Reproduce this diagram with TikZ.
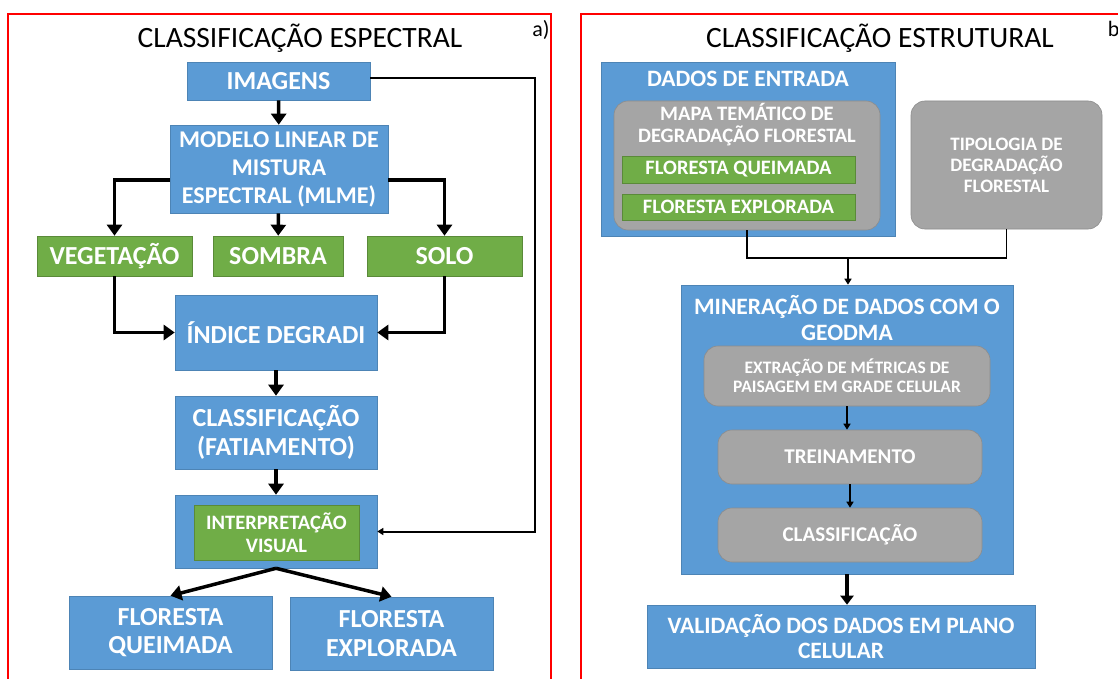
\documentclass[tikz,border=0pt]{standalone}
\usepackage{fontspec}
\setmainfont{Carlito}
\usetikzlibrary{arrows.meta}
\definecolor{boxblue}{RGB}{91,155,213}
\definecolor{boxgreen}{RGB}{112,173,71}
\definecolor{boxgray}{RGB}{165,165,165}
\newcommand{\fs}[1]{\fontsize{#1}{\dimexpr #1pt*110/100\relax}\selectfont}
\begin{document}
\begin{tikzpicture}[x=1pt, y=-1pt,
	bluebox/.style={draw=boxblue!85!black, line width=0.6pt, fill=boxblue, text=white, font=\bfseries\fs{26}, align=center, inner sep=0pt},
	greenbox/.style={draw=boxgreen!80!black, line width=0.6pt, fill=boxgreen, text=white, font=\bfseries\fs{20.5}, align=center, inner sep=0pt},
	graybox/.style={draw=boxgray!85!black, line width=0.6pt, fill=boxgray, text=white, font=\bfseries\fs{21}, align=center, inner sep=0pt, rounded corners=14pt},
	bigarrow/.style={line width=3.5pt, -{Triangle[length=11pt, width=15pt]}},
	thinarrow/.style={line width=2pt, -{Triangle[length=6pt, width=7pt]}},
	frame/.style={draw=red, line width=1.8pt}]
	\useasboundingbox (0,0) rectangle (1118,679);
	\fill[white] (0,0) rectangle (1118,679);
	% a) classificacao espectral
	\draw[frame] (8,14) rectangle (551,700);
	\node[font=\fs{29.5}] (titlea) at (300,38) {CLASSIFICAÇÃO ESPECTRAL};
	\node[font=\fs{22}] (laba) at (541,30) {a)};
	\node[bluebox, minimum width=183pt, minimum height=38pt] (img) at (278.5,81) {IMAGENS};
	\node[bluebox, font=\bfseries\fontsize{24}{28}\selectfont, minimum width=218pt, minimum height=88pt] (mlme) at (279,169) {MODELO LINEAR DE\\MISTURA\\ESPECTRAL (MLME)};
	\node[greenbox, font=\bfseries\fs{26}, minimum width=155pt, minimum height=40pt] (veg) at (114.5,256) {VEGETAÇÃO};
	\node[greenbox, font=\bfseries\fs{26}, minimum width=130pt, minimum height=40pt] (sombra) at (278,256) {SOMBRA};
	\node[greenbox, font=\bfseries\fs{26}, minimum width=155pt, minimum height=40pt] (solo) at (444.5,256) {SOLO};
	\node[bluebox, minimum width=202pt, minimum height=75pt] (degradi) at (276,332.5) {ÍNDICE DEGRADI};
	\node[bluebox, minimum width=202pt, minimum height=73pt] (fatia) at (276,432.5) {CLASSIFICAÇÃO\\(FATIAMENTO)};
	\node[bluebox, minimum width=202pt, minimum height=73pt] (interp) at (276,531.5) {};
	\node[greenbox, minimum width=165pt, minimum height=55pt] (visual) at (276.5,532.5) {INTERPRETAÇÃO\\VISUAL};
	\node[bluebox, minimum width=203pt, minimum height=73pt] (fq) at (170.5,632.5) {FLORESTA\\QUEIMADA};
	\node[bluebox, minimum width=203pt, minimum height=73pt] (fe) at (391.5,633.5) {FLORESTA\\EXPLORADA};
	\draw[bigarrow] (img) -- (mlme);
	\draw[bigarrow] ([yshift=-11pt]mlme.west) -| (veg.north);
	\draw[bigarrow] (mlme) -- (sombra);
	\draw[bigarrow] ([yshift=-11pt]mlme.east) -| (solo.north);
	\draw[bigarrow] (veg.south) |- (degradi.west);
	\draw[bigarrow] (solo.south) |- (degradi.east);
	\draw[bigarrow] (degradi) -- (fatia);
	\draw[bigarrow] (fatia) -- (interp);
	\draw[thinarrow] ([yshift=3pt]img.east) -- ++(165,0) |- (interp.east);
	\draw[bigarrow] (interp.south) -- (fq.north);
	\draw[bigarrow] (interp.south) -- (fe.north);
	% b) classificacao estrutural
	\draw[frame] (581,14) rectangle (1140,700);
	\node[font=\fs{29.5}] (titleb) at (880,38) {CLASSIFICAÇÃO ESTRUTURAL};
	\node[font=\fs{22}] (labb) at (1117,30) {b)};
	\node[bluebox, minimum width=294pt, minimum height=174pt] (dados) at (748,149) {};
	\node[text=white, font=\bfseries\fs{23.5}] (dadoslbl) at (748,79) {DADOS DE ENTRADA};
	\node[graybox, minimum width=266pt, minimum height=129pt] (mapa) at (747,165.5) {};
	\node[text=white, font=\bfseries\fs{20.5}, align=center] (mapalbl) at (747,124.5) {MAPA TEMÁTICO DE\\DEGRADAÇÃO FLORESTAL};
	\node[greenbox, minimum width=233pt, minimum height=27pt] (gq) at (738.5,169.5) {FLORESTA QUEIMADA};
	\node[greenbox, minimum width=233pt, minimum height=26pt] (ge) at (738.5,207) {FLORESTA EXPLORADA};
	\node[graybox, font=\bfseries\fs{19}, minimum width=191pt, minimum height=128pt] (tipo) at (1006.5,165) {TIPOLOGIA DE\\DEGRADAÇÃO\\FLORESTAL};
	\node[bluebox, minimum width=332pt, minimum height=289pt] (miner) at (847,429.5) {};
	\node[text=white, font=\bfseries\fs{23.5}, align=center] (minerlbl) at (847,318) {MINERAÇÃO DE DADOS COM O\\GEODMA};
	\node[graybox, font=\bfseries\fs{17.5}, minimum width=286pt, minimum height=60pt] (extr) at (847,376) {EXTRAÇÃO DE MÉTRICAS DE\\PAISAGEM EM GRADE CELULAR};
	\node[graybox, minimum width=264pt, minimum height=54pt] (trein) at (850,457) {TREINAMENTO};
	\node[graybox, minimum width=264pt, minimum height=54pt] (classif) at (850,535) {CLASSIFICAÇÃO};
	\node[bluebox, font=\bfseries\fs{23.5}, minimum width=388pt, minimum height=63pt] (valid) at (841,636.5) {VALIDAÇÃO DOS DADOS EM PLANO\\CELULAR};
	\coordinate (junc) at (848,258);
	\draw[line width=1.8pt] (mapa.south) -- ++(0,28) -| (tipo.south);
	\draw[thinarrow] (junc) -- (junc |- miner.north);
	\draw[thinarrow] (extr.south) -- (extr.south |- trein.north);
	\draw[thinarrow] (trein.south) -- (trein.south |- classif.north);
	\draw[line width=4.5pt, -{Triangle[length=9pt, width=13pt]}] (miner.south) -- (miner.south |- valid.north);
\end{tikzpicture}
\end{document}
